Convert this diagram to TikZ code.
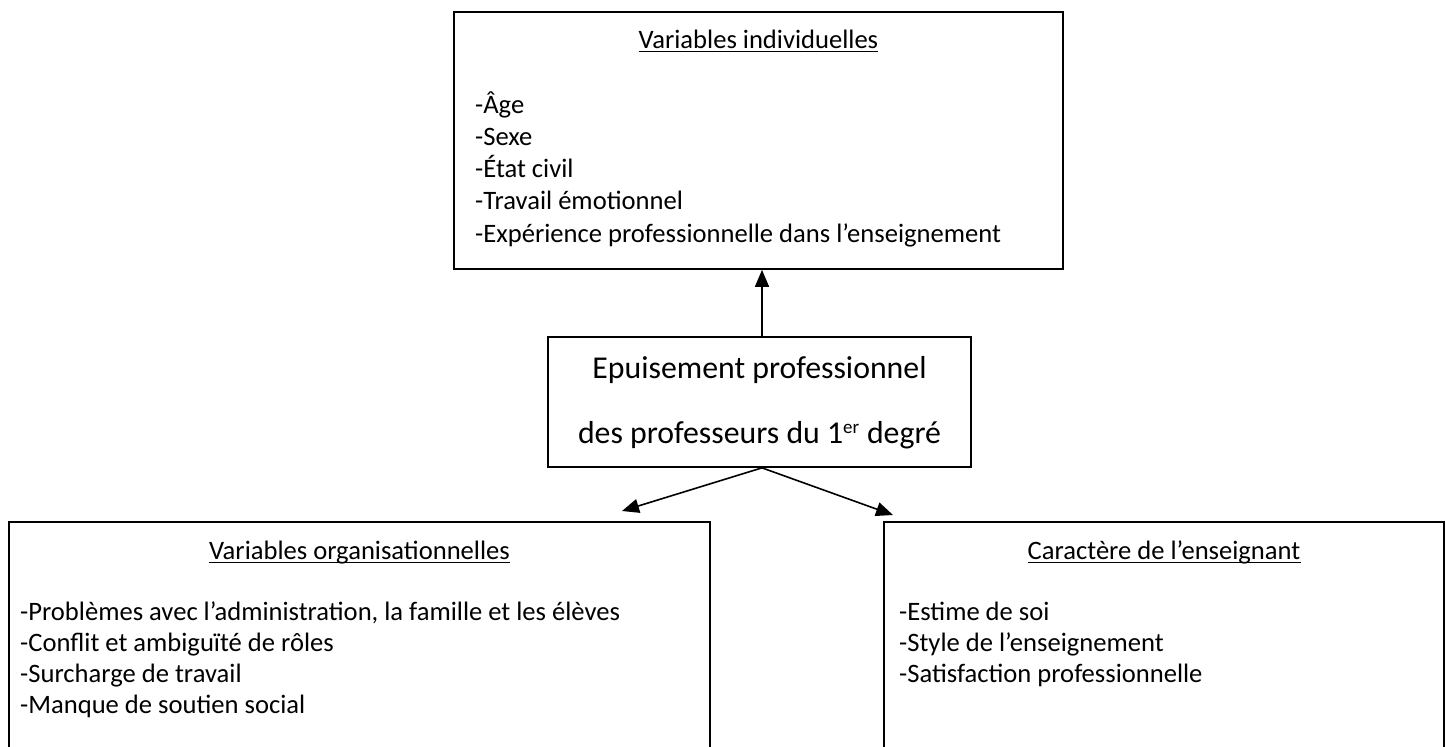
\documentclass[tikz,border=0pt]{standalone}
\usepackage{fontspec}
\setmainfont{Carlito}
\usetikzlibrary{arrows.meta}
\begin{document}
\begin{tikzpicture}[x=1pt,y=-1pt,
  box/.style={draw, line width=1.7pt, inner sep=0pt},
  txt/.style={inner sep=0pt, anchor=base west, font=\fontsize{26.6}{32}\selectfont},
  hdr/.style={inner sep=0pt, anchor=base, font=\fontsize{26.6}{32}\selectfont},
  big/.style={inner sep=0pt, anchor=base, font=\fontsize{31.8}{38}\selectfont},
  arr/.style={line width=1.6pt, -{Triangle[length=17pt,width=14pt]}},
  ul/.style={line width=1.3pt}]
\useasboundingbox (0,0) rectangle (1446,747);
\clip (0,0) rectangle (1446,747);
% boxes
\node[box, minimum width=609pt, minimum height=257pt] (top) at (758.5,140.5) {};
\node[box, minimum width=423pt, minimum height=130pt] (mid) at (759.5,402) {};
\node[box, minimum width=701pt, minimum height=278pt] (left) at (359.5,661) {};
\node[box, minimum width=560pt, minimum height=278pt] (right) at (1164,661) {};
% top box text
\node[hdr] (h1) at (758.5,48) {Variables individuelles};
\draw[ul] ([yshift=-3.5pt]h1.base west) -- ([yshift=-3.5pt]h1.base east);
\node[txt] (t1) at (475,113) {-Âge};
\node[txt] (t2) at (475,145.3) {-Sexe};
\node[txt] (t3) at (475,177.6) {-État civil};
\node[txt] (t4) at (475,209.9) {-Travail émotionnel};
\node[txt] (t5) at (475,242.2) {-Expérience professionnelle dans l’enseignement};
% middle text
\node[big] (m1) at (759.5,378) {Epuisement professionnel};
\node[big] (m2) at (759.5,443) {des professeurs du 1\textsuperscript{\fontsize{19}{20}\selectfont er} degré};
% left box text
\node[hdr] (h2) at (359.5,559) {Variables organisationnelles};
\draw[ul] ([yshift=-3.5pt]h2.base west) -- ([yshift=-3.5pt]h2.base east);
\node[txt] (l1) at (20,620) {-Problèmes avec l’administration, la famille et les élèves};
\node[txt] (l2) at (20,651) {-Conflit et ambiguïté de rôles};
\node[txt] (l3) at (20,682) {-Surcharge de travail};
\node[txt] (l4) at (20,713) {-Manque de soutien social};
% right box text
\node[hdr] (h3) at (1164,559) {Caractère de l’enseignant};
\draw[ul] ([yshift=-3.5pt]h3.base west) -- ([yshift=-3.5pt]h3.base east);
\node[txt] (r1) at (899,620) {-Estime de soi};
\node[txt] (r2) at (899,651) {-Style de l’enseignement};
\node[txt] (r3) at (899,682) {-Satisfaction professionnelle};
% connectors
\coordinate (tipL) at (622,511);
\coordinate (tipR) at (893,515);
\draw[arr] ([xshift=2.5pt]mid.north) -- ([xshift=2.5pt]mid.north |- top.south);
\draw[arr] ([xshift=2.5pt]mid.south) -- (tipL);
\draw[arr] ([xshift=2.5pt]mid.south) -- (tipR);
\end{tikzpicture}
\end{document}
